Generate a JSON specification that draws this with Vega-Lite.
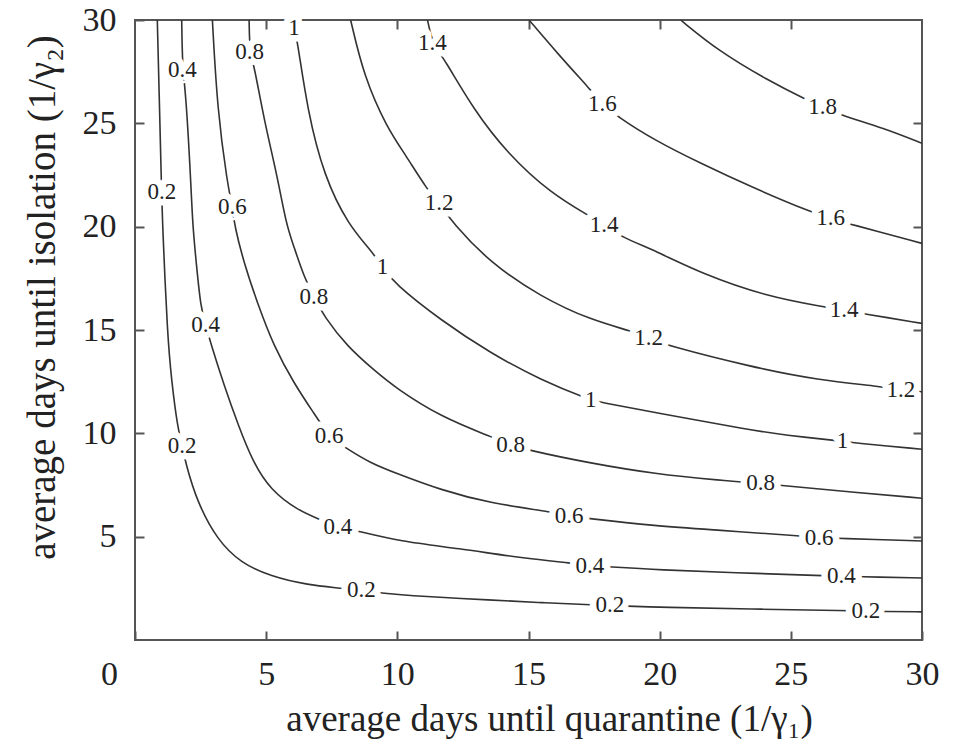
{
  "$schema": "https://vega.github.io/schema/vega-lite/v6.json",
  "width": 787,
  "height": 620,
  "autosize": {"type": "none"},
  "padding": {"left": 135, "top": 20, "right": 31, "bottom": 101},
  "background": "white",
  "config": {
    "view": {"stroke": "#555", "strokeWidth": 2},
    "font": "Liberation Serif",
    "axis": {
      "grid": false,
      "domain": false,
      "labelFont": "Liberation Serif",
      "titleFont": "Liberation Serif",
      "labelColor": "#222",
      "titleColor": "#222",
      "labelFontSize": 34,
      "titleFontSize": 37,
      "titleFontWeight": "normal",
      "tickColor": "#555",
      "tickWidth": 2,
      "tickSize": -9,
      "labelFlush": false,
      "labelOverlap": false,
      "labelBound": false
    }
  },
  "datasets": {
    "contours": [
      {"level": "0.2", "x": 0.85, "y": 30}, {"level": "0.2", "x": 0.93, "y": 26}, {"level": "0.2", "x": 1.0, "y": 22.4}, {"level": "0.2", "x": 1.05, "y": 20.0}, {"level": "0.2", "x": 1.24, "y": 14.7}, {"level": "0.2", "x": 1.39, "y": 12.6}, {"level": "0.2", "x": 1.62, "y": 10.3}, {"level": "0.2", "x": 1.8, "y": 9.4}, {"level": "0.2", "x": 1.93, "y": 8.55}, {"level": "0.2", "x": 2.38, "y": 6.64}, {"level": "0.2", "x": 3.14, "y": 4.84}, {"level": "0.2", "x": 4.03, "y": 3.73}, {"level": "0.2", "x": 5.17, "y": 3.08}, {"level": "0.2", "x": 6.57, "y": 2.66}, {"level": "0.2", "x": 7.96, "y": 2.5}, {"level": "0.2", "x": 9.24, "y": 2.28}, {"level": "0.2", "x": 11.0, "y": 2.1}, {"level": "0.2", "x": 13.56, "y": 1.94}, {"level": "0.2", "x": 15.5, "y": 1.8}, {"level": "0.2", "x": 17.49, "y": 1.7}, {"level": "0.2", "x": 18.77, "y": 1.64}, {"level": "0.2", "x": 20.04, "y": 1.58}, {"level": "0.2", "x": 23.47, "y": 1.5}, {"level": "0.2", "x": 27.16, "y": 1.42}, {"level": "0.2", "x": 28.55, "y": 1.38}, {"level": "0.2", "x": 30, "y": 1.36},
      {"level": "0.4", "x": 1.78, "y": 30}, {"level": "0.4", "x": 1.81, "y": 27.6}, {"level": "0.4", "x": 1.93, "y": 26.6}, {"level": "0.4", "x": 2.12, "y": 22.41}, {"level": "0.4", "x": 2.2, "y": 20.0}, {"level": "0.4", "x": 2.34, "y": 18.2}, {"level": "0.4", "x": 2.5, "y": 16.13}, {"level": "0.4", "x": 2.69, "y": 15.24}, {"level": "0.4", "x": 2.89, "y": 14.35}, {"level": "0.4", "x": 3.4, "y": 12.3}, {"level": "0.4", "x": 3.95, "y": 10.35}, {"level": "0.4", "x": 4.5, "y": 8.6}, {"level": "0.4", "x": 5.17, "y": 7.26}, {"level": "0.4", "x": 6.19, "y": 6.29}, {"level": "0.4", "x": 7.08, "y": 5.81}, {"level": "0.4", "x": 7.73, "y": 5.48}, {"level": "0.4", "x": 8.34, "y": 5.32}, {"level": "0.4", "x": 10.13, "y": 4.76}, {"level": "0.4", "x": 12.29, "y": 4.44}, {"level": "0.4", "x": 14.83, "y": 3.95}, {"level": "0.4", "x": 16.74, "y": 3.71}, {"level": "0.4", "x": 17.34, "y": 3.6}, {"level": "0.4", "x": 17.95, "y": 3.55}, {"level": "0.4", "x": 20.04, "y": 3.39}, {"level": "0.4", "x": 22.82, "y": 3.26}, {"level": "0.4", "x": 26.26, "y": 3.11}, {"level": "0.4", "x": 27.59, "y": 3.06}, {"level": "0.4", "x": 30, "y": 3.0},
      {"level": "0.6", "x": 2.95, "y": 30}, {"level": "0.6", "x": 3.14, "y": 25.64}, {"level": "0.6", "x": 3.52, "y": 22.1}, {"level": "0.6", "x": 3.71, "y": 20.96}, {"level": "0.6", "x": 3.8, "y": 20.0}, {"level": "0.6", "x": 4.16, "y": 18.22}, {"level": "0.6", "x": 4.67, "y": 16.29}, {"level": "0.6", "x": 5.3, "y": 14.19}, {"level": "0.6", "x": 6.06, "y": 12.42}, {"level": "0.6", "x": 6.82, "y": 10.97}, {"level": "0.6", "x": 7.4, "y": 9.85}, {"level": "0.6", "x": 7.97, "y": 9.35}, {"level": "0.6", "x": 8.99, "y": 8.55}, {"level": "0.6", "x": 9.94, "y": 8.08}, {"level": "0.6", "x": 11.65, "y": 7.26}, {"level": "0.6", "x": 13.56, "y": 6.61}, {"level": "0.6", "x": 15.85, "y": 6.21}, {"level": "0.6", "x": 16.55, "y": 6.0}, {"level": "0.6", "x": 17.18, "y": 5.89}, {"level": "0.6", "x": 19.85, "y": 5.52}, {"level": "0.6", "x": 22.2, "y": 5.32}, {"level": "0.6", "x": 25.38, "y": 5.03}, {"level": "0.6", "x": 26.08, "y": 4.95}, {"level": "0.6", "x": 26.71, "y": 4.92}, {"level": "0.6", "x": 30, "y": 4.79},
      {"level": "0.8", "x": 4.35, "y": 30}, {"level": "0.8", "x": 4.37, "y": 28.46}, {"level": "0.8", "x": 4.54, "y": 27.82}, {"level": "0.8", "x": 4.92, "y": 25.16}, {"level": "0.8", "x": 5.43, "y": 22.41}, {"level": "0.8", "x": 5.77, "y": 20.08}, {"level": "0.8", "x": 6.06, "y": 19.03}, {"level": "0.8", "x": 6.44, "y": 17.58}, {"level": "0.8", "x": 6.82, "y": 16.61}, {"level": "0.8", "x": 7.21, "y": 15.64}, {"level": "0.8", "x": 8.1, "y": 14.19}, {"level": "0.8", "x": 9.11, "y": 13.06}, {"level": "0.8", "x": 9.94, "y": 12.19}, {"level": "0.8", "x": 11.65, "y": 10.8}, {"level": "0.8", "x": 13.56, "y": 9.84}, {"level": "0.8", "x": 14.32, "y": 9.45}, {"level": "0.8", "x": 14.96, "y": 9.19}, {"level": "0.8", "x": 17.37, "y": 8.55}, {"level": "0.8", "x": 19.85, "y": 8.03}, {"level": "0.8", "x": 22.2, "y": 7.74}, {"level": "0.8", "x": 24.5, "y": 7.5}, {"level": "0.8", "x": 27.2, "y": 7.17}, {"level": "0.8", "x": 30, "y": 6.86},
      {"level": "1", "x": 5.94, "y": 30}, {"level": "1", "x": 6.06, "y": 29.6}, {"level": "1", "x": 6.19, "y": 29.03}, {"level": "1", "x": 6.57, "y": 25.64}, {"level": "1", "x": 7.21, "y": 22.41}, {"level": "1", "x": 8.15, "y": 20.05}, {"level": "1", "x": 8.99, "y": 18.87}, {"level": "1", "x": 9.43, "y": 18.06}, {"level": "1", "x": 9.87, "y": 17.26}, {"level": "1", "x": 11.65, "y": 15.48}, {"level": "1", "x": 13.56, "y": 13.87}, {"level": "1", "x": 15.47, "y": 12.58}, {"level": "1", "x": 17.37, "y": 11.61}, {"level": "1", "x": 17.63, "y": 11.53}, {"level": "1", "x": 19.85, "y": 11.0}, {"level": "1", "x": 23.47, "y": 10.16}, {"level": "1", "x": 24.73, "y": 9.92}, {"level": "1", "x": 26.97, "y": 9.62}, {"level": "1", "x": 27.29, "y": 9.55}, {"level": "1", "x": 30, "y": 9.23},
      {"level": "1.2", "x": 8.22, "y": 30}, {"level": "1.2", "x": 8.73, "y": 27.25}, {"level": "1.2", "x": 9.6, "y": 24.8}, {"level": "1.2", "x": 10.3, "y": 23.5}, {"level": "1.2", "x": 11.15, "y": 21.77}, {"level": "1.2", "x": 11.59, "y": 21.13}, {"level": "1.2", "x": 12.1, "y": 20.2}, {"level": "1.2", "x": 13.56, "y": 18.22}, {"level": "1.2", "x": 15.47, "y": 16.61}, {"level": "1.2", "x": 17.37, "y": 15.48}, {"level": "1.2", "x": 19.02, "y": 14.92}, {"level": "1.2", "x": 19.58, "y": 14.61}, {"level": "1.2", "x": 20.23, "y": 14.27}, {"level": "1.2", "x": 23.47, "y": 13.22}, {"level": "1.2", "x": 26.02, "y": 12.58}, {"level": "1.2", "x": 28.55, "y": 12.25}, {"level": "1.2", "x": 29.19, "y": 12.09}, {"level": "1.2", "x": 30, "y": 12.01},
      {"level": "1.4", "x": 11.15, "y": 30}, {"level": "1.4", "x": 11.34, "y": 28.87}, {"level": "1.4", "x": 11.78, "y": 28.14}, {"level": "1.4", "x": 12.92, "y": 25.64}, {"level": "1.4", "x": 14.2, "y": 23.54}, {"level": "1.4", "x": 15.85, "y": 21.61}, {"level": "1.4", "x": 17.37, "y": 20.48}, {"level": "1.4", "x": 17.88, "y": 20.1}, {"level": "1.4", "x": 18.52, "y": 19.51}, {"level": "1.4", "x": 19.85, "y": 18.83}, {"level": "1.4", "x": 21.57, "y": 17.74}, {"level": "1.4", "x": 24.11, "y": 16.61}, {"level": "1.4", "x": 26.27, "y": 16.12}, {"level": "1.4", "x": 27.03, "y": 15.96}, {"level": "1.4", "x": 27.67, "y": 15.81}, {"level": "1.4", "x": 30, "y": 15.32},
      {"level": "1.6", "x": 15.02, "y": 30}, {"level": "1.6", "x": 16.1, "y": 28.39}, {"level": "1.6", "x": 17.37, "y": 26.61}, {"level": "1.6", "x": 17.82, "y": 25.95}, {"level": "1.6", "x": 18.39, "y": 25.32}, {"level": "1.6", "x": 19.85, "y": 24.15}, {"level": "1.6", "x": 21.57, "y": 23.06}, {"level": "1.6", "x": 23.47, "y": 21.93}, {"level": "1.6", "x": 25.89, "y": 20.64}, {"level": "1.6", "x": 26.52, "y": 20.4}, {"level": "1.6", "x": 27.16, "y": 20.16}, {"level": "1.6", "x": 30, "y": 19.19},
      {"level": "1.8", "x": 20.8, "y": 30}, {"level": "1.8", "x": 22.2, "y": 28.54}, {"level": "1.8", "x": 24.11, "y": 27.09}, {"level": "1.8", "x": 25.63, "y": 26.12}, {"level": "1.8", "x": 26.21, "y": 25.8}, {"level": "1.8", "x": 26.9, "y": 25.4}, {"level": "1.8", "x": 28.55, "y": 24.76}, {"level": "1.8", "x": 30, "y": 24.03}
    ],
    "labels": [
      {"level": "0.2", "x": 1.02, "y": 21.7}, {"level": "0.2", "x": 1.8, "y": 9.4}, {"level": "0.2", "x": 8.63, "y": 2.42}, {"level": "0.2", "x": 18.1, "y": 1.67}, {"level": "0.2", "x": 27.86, "y": 1.4},
      {"level": "0.4", "x": 1.81, "y": 27.6}, {"level": "0.4", "x": 2.69, "y": 15.24}, {"level": "0.4", "x": 7.73, "y": 5.48}, {"level": "0.4", "x": 17.34, "y": 3.6}, {"level": "0.4", "x": 26.93, "y": 3.08},
      {"level": "0.6", "x": 3.71, "y": 20.96}, {"level": "0.6", "x": 7.4, "y": 9.85}, {"level": "0.6", "x": 16.55, "y": 6.0}, {"level": "0.6", "x": 26.08, "y": 4.95},
      {"level": "0.8", "x": 4.37, "y": 28.46}, {"level": "0.8", "x": 6.82, "y": 16.61}, {"level": "0.8", "x": 14.32, "y": 9.45}, {"level": "0.8", "x": 23.85, "y": 7.6},
      {"level": "1", "x": 6.06, "y": 29.6}, {"level": "1", "x": 9.43, "y": 18.06}, {"level": "1", "x": 17.37, "y": 11.61}, {"level": "1", "x": 26.97, "y": 9.62},
      {"level": "1.2", "x": 11.59, "y": 21.13}, {"level": "1.2", "x": 19.58, "y": 14.61}, {"level": "1.2", "x": 29.19, "y": 12.09},
      {"level": "1.4", "x": 11.34, "y": 28.87}, {"level": "1.4", "x": 17.88, "y": 20.1}, {"level": "1.4", "x": 27.03, "y": 15.96},
      {"level": "1.6", "x": 17.82, "y": 25.95}, {"level": "1.6", "x": 26.52, "y": 20.4},
      {"level": "1.8", "x": 26.21, "y": 25.8}
    ]
  },
  "layer": [
    {
      "data": {"name": "contours"},
      "mark": {"type": "line", "color": "#333", "strokeWidth": 1.6, "interpolate": "basis", "clip": true},
      "encoding": {
        "x": {
          "field": "x", "type": "quantitative",
          "scale": {"domain": [0, 30], "nice": false, "zero": false},
          "axis": {
            "orient": "bottom",
            "values": [0, 5, 10, 15, 20, 25, 30],
            "labelPadding": 26,
            "labelOffset": {"condition": {"test": "datum.value === 0", "value": -26}, "value": 0},
            "title": "average days until quarantine (1/γ₁)",
            "titleX": 414,
            "titleY": 79,
            "titleBaseline": "middle",
            "titleAlign": "center"
          }
        },
        "y": {
          "field": "y", "type": "quantitative",
          "scale": {"domain": [0, 30], "nice": false, "zero": false},
          "axis": {
            "orient": "left",
            "values": [5, 10, 15, 20, 25, 30],
            "labelPadding": 28,
            "labelBaseline": "middle",
            "title": "average days until isolation (1/γ₂)",
            "titleX": -93,
            "titleY": 277,
            "titleAngle": -90,
            "titleFontSize": 39,
            "titleBaseline": "middle",
            "titleAlign": "center"
          }
        },
        "detail": {"field": "level", "type": "nominal"}
      }
    },
    {
      "data": {"name": "labels"},
      "mark": {"type": "text", "font": "Liberation Serif", "fontSize": 23, "fill": "white", "stroke": "white", "strokeWidth": 13, "strokeJoin": "round", "baseline": "middle", "align": "center"},
      "encoding": {
        "x": {"field": "x", "type": "quantitative", "axis": {"orient": "top", "values": [5, 10, 15, 20, 25], "labels": false, "title": null}},
        "y": {"field": "y", "type": "quantitative", "axis": {"orient": "right", "values": [5, 10, 15, 20, 25], "labels": false, "title": null}},
        "text": {"field": "level", "type": "nominal"}
      }
    },
    {
      "data": {"name": "labels"},
      "mark": {"type": "text", "font": "Liberation Serif", "fontSize": 23, "color": "#222", "baseline": "middle", "align": "center"},
      "encoding": {
        "x": {"field": "x", "type": "quantitative", "axis": null},
        "y": {"field": "y", "type": "quantitative", "axis": null},
        "text": {"field": "level", "type": "nominal"}
      }
    }
  ],
  "resolve": {"axis": {"x": "independent", "y": "independent"}}
}
